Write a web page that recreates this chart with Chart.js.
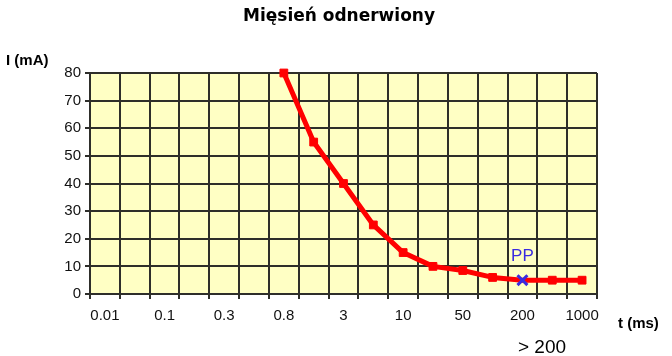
<!DOCTYPE html>
<html><head><meta charset="utf-8">
<script src="https://cdn.jsdelivr.net/npm/chart.js@4"></script>
<style>html,body{margin:0;padding:0;background:#fff}</style>
</head><body>
<canvas id="c" width="672" height="356"></canvas>
<script>
// Categories (x positions); only every second one carries a tick label
const categories = ['0.01','','0.1','','0.3','','0.8','','3','','10','','50','','200','','1000'];
// Current I (mA)
const currentValues = [null,null,null,null,null,null,80,55,40,25,15,10,8.5,6,5,5,5];
// Index of the marked point "PP"
const ppIndex = 14;
const yTicks = [0,10,20,30,40,50,60,70,80];
const titleText = 'Mięsień odnerwiony';
const yAxisText = 'I (mA)';
const xAxisText = 't (ms)';
const noteText = '> 200';
const ppText = 'PP';

const RED = '#FF0000', BLUE = '#3A2BE0', GRID = '#2e2e2a';

const bgPlugin = {
  id: 'bg',
  beforeDraw(chart) {
    const {ctx, chartArea: a} = chart;
    ctx.save();
    ctx.fillStyle = '#FFFFC4';
    ctx.fillRect(a.left, a.top, a.right - a.left, a.bottom - a.top);
    ctx.restore();
  },
  afterDraw(chart) {
    const {ctx} = chart;
    ctx.save();
    ctx.fillStyle = '#000';
    ctx.textBaseline = 'middle';
    ctx.textAlign = 'center';
    ctx.font = 'bold 17px "DejaVu Sans"';
    ctx.fillText(titleText, 339, 17);
    ctx.textAlign = 'left';
    ctx.font = 'bold 15px "Liberation Sans"';
    ctx.fillText(yAxisText, 6, 61);
    ctx.fillText(xAxisText, 618, 324);
    ctx.font = '19px "Liberation Sans"';
    ctx.fillText(noteText, 518, 348);
    const pt = chart.getDatasetMeta(0).data[ppIndex];
    ctx.fillStyle = BLUE;
    ctx.textAlign = 'center';
    ctx.font = '17px "Liberation Sans"';
    ctx.fillText(ppText, pt.x, pt.y - 24);
    ctx.restore();
  }
};

new Chart(document.getElementById('c'), {
  type: 'line',
  data: {
    labels: categories,
    datasets: [{
      data: currentValues,
      borderColor: RED,
      borderWidth: 5,
      borderJoinStyle: 'round',
      tension: 0,
      clip: false,
      pointStyle: currentValues.map((v, i) => i === ppIndex ? 'crossRot' : 'rect'),
      pointRadius: currentValues.map((v, i) => i === ppIndex ? 7 : 5.5),
      pointBackgroundColor: currentValues.map((v, i) => i === ppIndex ? BLUE : RED),
      pointBorderColor: currentValues.map((v, i) => i === ppIndex ? BLUE : RED),
      pointBorderWidth: currentValues.map((v, i) => i === ppIndex ? 3 : 1),
      spanGaps: false
    }]
  },
  options: {
    responsive: false,
    animation: false,
    devicePixelRatio: 1,
    layout: {padding: {top: 73, right: 75, left: 0, bottom: 0}},
    plugins: {legend: {display: false}, tooltip: {enabled: false}, title: {display: false}},
    scales: {
      x: {
        offset: true,
        grid: {offset: true, color: GRID, lineWidth: 2, tickLength: 5, drawTicks: true},
        border: {color: GRID, width: 2},
        ticks: {
          autoSkip: false, maxRotation: 0, minRotation: 0, padding: 8,
          color: '#111', font: {family: 'Liberation Sans', size: 15},
          callback: (v, i) => categories[i]
        },
        afterFit: s => { s.height = 62; }
      },
      y: {
        min: 0, max: 80,
        afterBuildTicks: s => { s.ticks = yTicks.map(v => ({value: v})); },
        grid: {color: GRID, lineWidth: 2, tickLength: 5},
        border: {color: GRID, width: 2},
        ticks: {padding: 4, color: '#111', font: {family: 'Liberation Sans', size: 15}},
        afterFit: s => { s.width = 90; }
      }
    }
  },
  plugins: [bgPlugin]
});
</script>
</body></html>
